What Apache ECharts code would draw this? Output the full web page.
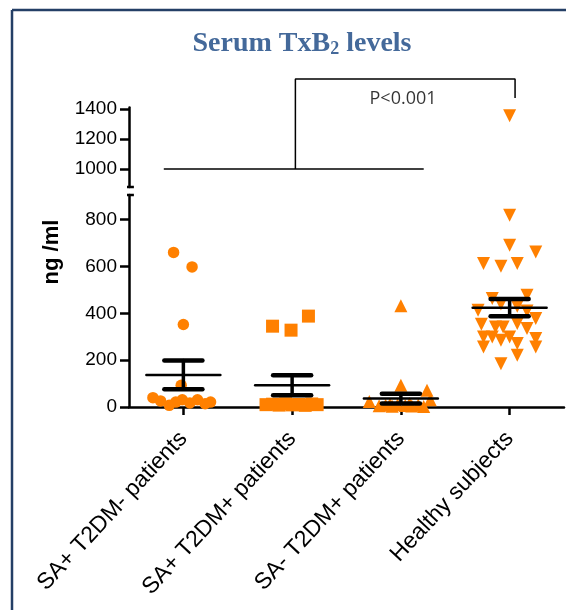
<!DOCTYPE html>
<html><head><meta charset="utf-8">
<script src="https://cdn.jsdelivr.net/npm/echarts@6/dist/echarts.min.js"></script>
<style>html,body{margin:0;padding:0;background:#fff}#c{width:566px;height:610px}</style>
</head><body><div id="c"></div>
<script>
// ---- data ----
const categories = ['SA+ T2DM- patients', 'SA+ T2DM+ patients', 'SA- T2DM+ patients', 'Healthy subjects'];
const yTicksLower = [0, 200, 400, 600, 800];
const yTicksUpper = [1000, 1200, 1400];

// group 1: circles
const values1 = [660, 598, 352, 93, 40, 26, 7, 21, 31, 17, 31, 14, 21];
const jitter1 = [-0.09, 0.08, 0, -0.02, -0.28, -0.21, -0.13, -0.07, -0.01, 0.06, 0.13, 0.2, 0.25];
// group 2: squares
const values2 = [345, 328, 388, 10, 12, 8, 14, 9, 11, 7, 13, 10];
const jitter2 = [-0.18, -0.01, 0.15, -0.24, -0.18, -0.12, -0.06, 0, 0.06, 0.12, 0.18, 0.23];
// group 3: triangles
const values3 = [432, 93, 71, 24, 31, 5, 8, 3, 10, 6, 4, 9, 2, 12, 15];
const jitter3 = [0, 0, 0.24, -0.29, 0.27, -0.2, -0.14, -0.08, -0.03, 0.04, 0.1, 0.16, 0.21, -0.1, 0.08];
// group 4: inverted triangles
const values4 = [1355, 819, 691, 662, 613, 601, 613, 477, 463, 413, 378, 353, 342, 342, 356, 335, 299, 299, 285, 299, 292, 256, 271, 256, 221, 185, 440, 430, 410];
const jitter4 = [0, 0, 0, 0.24, -0.24, -0.08, 0.07, 0.16, -0.16, -0.29, 0.24, -0.26, -0.13, -0.06, 0.07, 0.16, -0.24, -0.16, -0.08, 0, 0.24, -0.24, 0.07, 0.24, 0.07, -0.08, -0.08, 0.07, 0.16];

// mean and SEM per group
const means = [137, 93, 36, 424];
const sems = [61, 43, 21, 37];

// significance bracket (data space of the upper panel)
const bracketBase = [[0.82, 1000], [3.21, 1000]];
const bracketArm = [[2.03, 1000], [2.03, 1600], [4.05, 1600], [4.05, 1473]];
const pLabel = 'P<0.001';
const pLabelPos = [3.02, 1467];

// axis break
const lowerMax = 905, upperMin = 880, upperMax = 1410;

// ---- chart ----
const ORANGE = '#ff8000';
const chart = echarts.init(document.getElementById('c'));
const groups = [
  {v: values1, j: jitter1, symbol: 'circle', size: 11.5, rot: 0},
  {v: values2, j: jitter2, symbol: 'rect', size: 13, rot: 0},
  {v: values3, j: jitter3, symbol: 'triangle', size: 13, rot: 0},
  {v: values4, j: jitter4, symbol: 'triangle', size: 13, rot: 180}
];
const series = [];
groups.forEach((g, gi) => {
  const pts = g.v.map((v, i) => [gi + 1 + g.j[i], v]);
  series.push({type: 'scatter', xAxisIndex: 1, yAxisIndex: 1, symbol: g.symbol, symbolSize: g.size, symbolRotate: g.rot,
    itemStyle: {color: ORANGE, opacity: 1}, data: pts.filter(p => p[1] <= lowerMax), z: 2, silent: true});
  const up = pts.filter(p => p[1] > lowerMax);
  if (up.length) series.push({type: 'scatter', xAxisIndex: 0, yAxisIndex: 0, symbol: g.symbol, symbolSize: g.size, symbolRotate: g.rot,
    itemStyle: {color: ORANGE, opacity: 1}, data: up, z: 2, silent: true});
});
series.push({
  type: 'custom', xAxisIndex: 1, yAxisIndex: 1, z: 5, silent: true,
  data: means.map((m, i) => [i + 1, m, sems[i]]),
  renderItem: (params, api) => {
    const g = api.value(0), m = api.value(1), s = api.value(2);
    const L = (x1, y1, x2, y2, w) => {
      const a = api.coord([x1, y1]), b = api.coord([x2, y2]);
      return {type: 'line', shape: {x1: a[0], y1: a[1], x2: b[0], y2: b[1]}, style: {stroke: '#000', lineWidth: w, lineCap: 'round'}};
    };
    return {type: 'group', children: [
      L(g - 0.34, m, g + 0.34, m, 2.5),
      L(g - 0.175, m + s, g + 0.175, m + s, 4.5),
      L(g - 0.175, m - s, g + 0.175, m - s, 4.5),
      L(g, m - s, g, m + s, 3.5)
    ]};
  }
});
// axis break caps
series.push({type: 'line', xAxisIndex: 0, yAxisIndex: 0, clip: false, symbol: 'none', silent: true,
  lineStyle: {color: '#000', width: 2.5}, data: [[0.455, upperMin], [0.545, upperMin]]});
series.push({type: 'line', xAxisIndex: 1, yAxisIndex: 1, clip: false, symbol: 'none', silent: true,
  lineStyle: {color: '#000', width: 2.5}, data: [[0.455, lowerMax], [0.545, lowerMax]]});
// bracket
series.push({type: 'line', xAxisIndex: 0, yAxisIndex: 0, clip: false, symbol: 'none', silent: true,
  lineStyle: {color: '#000', width: 1.5}, data: bracketBase});
series.push({type: 'line', xAxisIndex: 0, yAxisIndex: 0, clip: false, symbol: 'none', silent: true,
  lineStyle: {color: '#000', width: 1.5}, data: bracketArm});
series.push({type: 'scatter', xAxisIndex: 0, yAxisIndex: 0, clip: false, symbolSize: 0, silent: true,
  data: [pLabelPos], label: {show: true, position: 'inside', formatter: pLabel, color: '#000', fontSize: 18, fontFamily: 'Open Sans'}});

const axisLineStyle = {color: '#000', width: 2.5};
const yLab = {color: '#000', fontSize: 19, fontFamily: 'Liberation Sans, Arial', margin: 12, formatter: v => String(v)};
chart.setOption({
  animation: false,
  backgroundColor: '#fff',
  title: {
    text: '{a|Serum TxB}{b|2}{a| levels}', left: 297, top: 25, textAlign: 'center',
    textStyle: {rich: {
      a: {fontFamily: 'Liberation Serif, Times New Roman, serif', fontWeight: 'bold', fontSize: 28, color: '#44699a'},
      b: {fontFamily: 'Liberation Serif, Times New Roman, serif', fontWeight: 'bold', fontSize: 18, color: '#44699a', verticalAlign: 'bottom'}
    }}
  },
  grid: [
    {left: 129, width: 435, top: 107.5, height: 79.5, outerBoundsMode: 'none'},
    {left: 129, width: 435, top: 195, height: 212, outerBoundsMode: 'none'}
  ],
  xAxis: [
    {gridIndex: 0, type: 'value', min: 0.5, max: 4.5, show: false},
    {gridIndex: 1, type: 'value', min: 0.5, max: 4.5,
      axisLine: {show: true, onZero: false, lineStyle: axisLineStyle},
      axisTick: {show: true, customValues: [1, 2, 3, 4], length: 8, lineStyle: {color: '#000', width: 2.5}},
      axisLabel: {customValues: [1, 2, 3, 4], formatter: v => categories[Math.round(v) - 1], rotate: 47,
        fontSize: 23, color: '#000', margin: 28, fontFamily: 'Liberation Sans, Arial'},
      splitLine: {show: false}}
  ],
  yAxis: [
    {gridIndex: 0, type: 'value', min: upperMin, max: upperMax,
      axisLine: {show: true, lineStyle: axisLineStyle},
      axisTick: {show: true, customValues: yTicksUpper, length: 9, lineStyle: {color: '#000', width: 2.5}},
      axisLabel: Object.assign({customValues: yTicksUpper}, yLab), splitLine: {show: false}},
    {gridIndex: 1, type: 'value', min: 0, max: lowerMax,
      axisLine: {show: true, lineStyle: axisLineStyle},
      axisTick: {show: true, customValues: yTicksLower, length: 9, lineStyle: {color: '#000', width: 2.5}},
      axisLabel: Object.assign({customValues: yTicksLower}, yLab), splitLine: {show: false}}
  ],
  graphic: [
    {type: 'line', shape: {x1: 12, y1: 10, x2: 566, y2: 10}, style: {stroke: '#243f66', lineWidth: 2.5}, silent: true},
    {type: 'line', shape: {x1: 12, y1: 10, x2: 12, y2: 610}, style: {stroke: '#243f66', lineWidth: 2.5}, silent: true},
    {type: 'text', x: 52, y: 252, rotation: Math.PI / 2, silent: true,
      style: {text: 'ng /ml', fontSize: 22, fontWeight: 'bold', fontFamily: 'Liberation Sans, Arial', fill: '#000', align: 'center', verticalAlign: 'middle'}}
  ],
  series: series
});
</script>
</body></html>
